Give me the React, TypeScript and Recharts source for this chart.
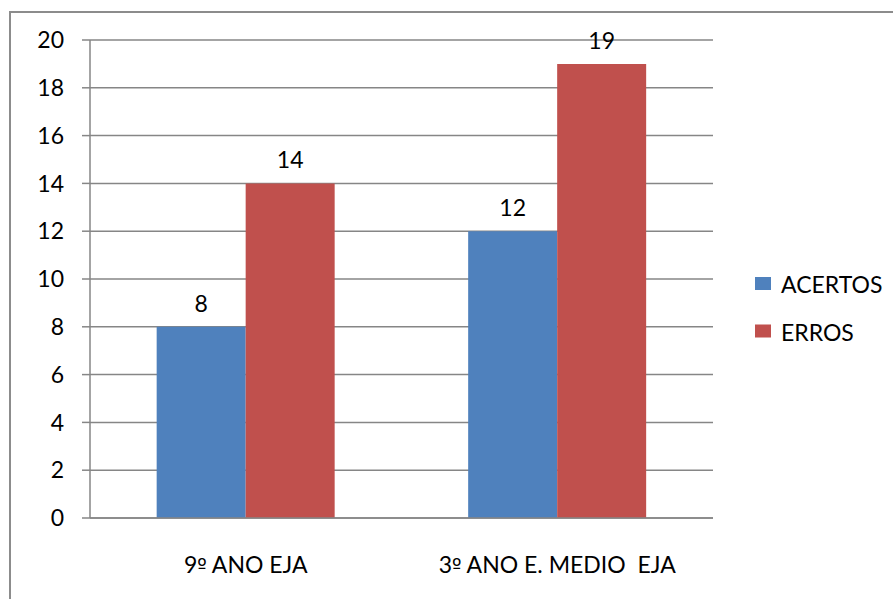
import React from "react";
import { BarChart, Bar, XAxis, YAxis, CartesianGrid, LabelList } from "recharts";

const categories = ["9º ANO EJA", "3º ANO E. MEDIO  EJA"];
const acertos = [8, 12];
const erros = [14, 19];
const yTicks = [0, 2, 4, 6, 8, 10, 12, 14, 16, 18, 20];
const seriesNames = ["ACERTOS", "ERROS"];
const colors = ["#4F81BD", "#C0504D"];

const data = categories.map((c, i) => ({ name: c, ACERTOS: acertos[i], ERROS: erros[i] }));

const FONT = "Lato, 'Open Sans', sans-serif";
const FS = 23;
const AXIS = "#868686";

const renderLabel = (props: any) => {
  const { x, y, width, value } = props;
  return (
    <text x={x + width / 2} y={y - 15} textAnchor="middle" fontSize={FS} fontFamily={FONT} fill="#000">
      {value}
    </text>
  );
};

const CatTick = (props: any) => {
  const { x, y, payload } = props;
  const parts = String(payload.value).split("º");
  return (
    <text x={x} y={y} dy="0.71em" textAnchor="middle" fontSize={FS} fontFamily={FONT} fill="#000" style={{ whiteSpace: "pre" }}>
      {parts.map((p, i) => (
        <React.Fragment key={i}>
          {i > 0 && <tspan fontFamily="'DejaVu Sans', sans-serif" fontSize={FS - 3}>º</tspan>}
          <tspan>{p}</tspan>
        </React.Fragment>
      ))}
    </text>
  );
};

export default function App() {
  return (
    <div style={{ position: "absolute", left: 0, top: 0, width: 893, height: 599, background: "#fff", overflow: "hidden" }}>
      <div style={{ position: "absolute", left: 9, top: 11, width: 1000, height: 700, border: "2px solid #8c8c8c", boxSizing: "border-box" }} />
      <div style={{ position: "absolute", left: 0, top: 0 }}>
        <BarChart
          width={893}
          height={599}
          data={data}
          margin={{ top: 40, right: 180, bottom: 21, left: 0 }}
          barCategoryGap="21.4%"
          barGap={0}
        >
          <CartesianGrid horizontal vertical={false} stroke={AXIS} strokeWidth={1.5} />
          <XAxis
            xAxisId="grid"
            type="number"
            domain={[0, categories.length]}
            ticks={[0, 1, 2]}
            height={0}
            tick={false}
            axisLine={false}
            tickSize={6}
            tickLine={{ stroke: AXIS, strokeWidth: 1.5 }}
          />
          <XAxis
            dataKey="name"
            height={60}
            tickLine={false}
            tickSize={0}
            tickMargin={39}
            axisLine={{ stroke: AXIS, strokeWidth: 1.5 }}
            tick={<CatTick />}
            interval={0}
          />
          <YAxis
            width={90}
            domain={[0, 20]}
            ticks={yTicks}
            tickSize={8}
            tickMargin={18}
            axisLine={{ stroke: AXIS, strokeWidth: 1.5 }}
            tickLine={{ stroke: AXIS, strokeWidth: 1.5 }}
            tick={{ fontSize: FS, fontFamily: FONT, fill: "#000" }}
            interval={0}
          />
          <Bar dataKey="ACERTOS" fill={colors[0]} isAnimationActive={false}>
            <LabelList dataKey="ACERTOS" content={renderLabel} />
          </Bar>
          <Bar dataKey="ERROS" fill={colors[1]} isAnimationActive={false}>
            <LabelList dataKey="ERROS" content={renderLabel} />
          </Bar>
        </BarChart>
      </div>
      <svg width={893} height={599} style={{ position: "absolute", left: 0, top: 0, pointerEvents: "none" }}>
        {seriesNames.map((n, i) => (
          <g key={n}>
            <rect x={755} y={277 + i * 47.5} width={16} height={13} fill={colors[i]} />
            <text x={781} y={293 + i * 47.5} fontSize={FS} fontFamily={FONT} fill="#000">
              {n}
            </text>
          </g>
        ))}
      </svg>
    </div>
  );
}
